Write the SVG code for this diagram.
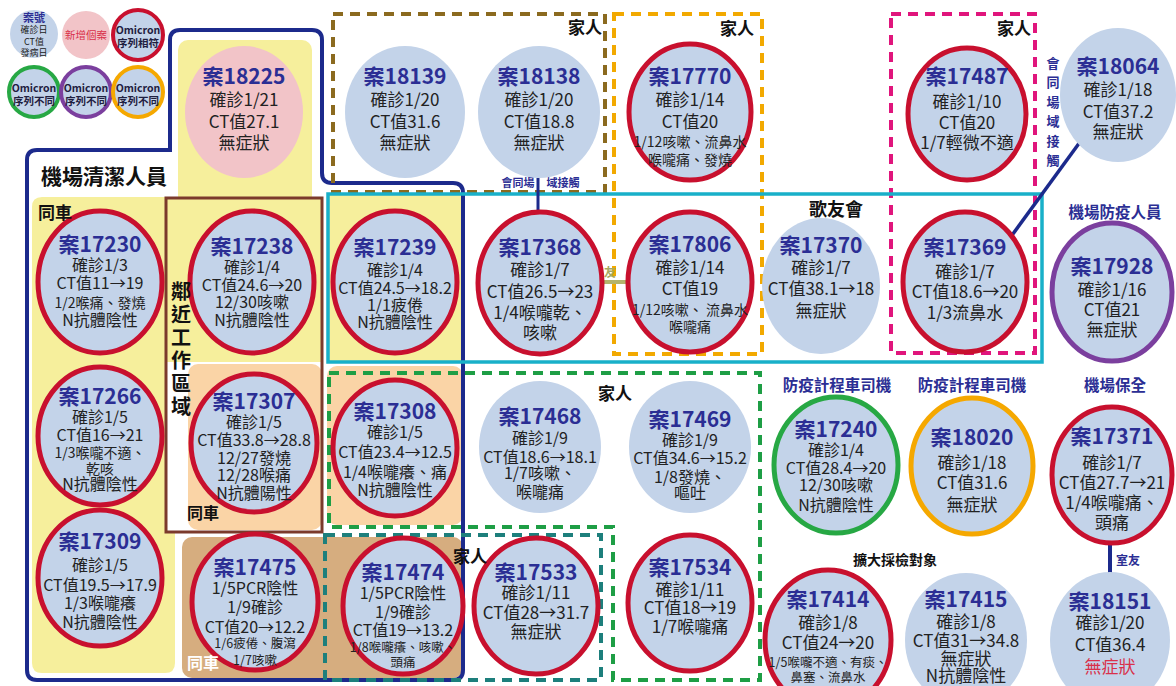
<svg xmlns="http://www.w3.org/2000/svg" width="1176" height="686" viewBox="0 0 1176 686">
<style>
text{font-family:"Noto Sans CJK TC","Noto Sans",sans-serif;text-anchor:middle;fill:#222}
.t{font-size:21px;font-weight:700;fill:#2b2e94}
.b{font-size:16px}
.m{font-size:17px}
.s{font-size:14px}
.xs{font-size:12.5px}
.c{fill:#c3d3e9}
.r{stroke:#c8102e;stroke-width:5}
.g{stroke:#27a844;stroke-width:5}
.p{stroke:#7b3f9e;stroke-width:5}
.o{stroke:#f5a800;stroke-width:5}
.lab{font-weight:700;fill:#111}
.nv{font-weight:700;fill:#2b2e94}
.om{font-size:10.5px;font-weight:700;fill:#1f2040}
.dash{fill:none;stroke-width:4;stroke-dasharray:10 7}
.yel{fill:#f6ef9c}
.org{fill:#fad4a6}
</style>

<g id="regions">
  <rect class="yel" x="178" y="40" width="134" height="170" rx="10"/>
  <path class="yel" d="M42,197 H166 V532 H175 V663 Q175,673 165,673 H42 Q32,673 32,663 V207 Q32,197 42,197 Z"/>
  <rect class="yel" x="166" y="198" width="156" height="164"/>
  <rect class="yel" x="327" y="195" width="136" height="167"/>
  <rect class="org" x="188" y="364" width="134" height="166" rx="10"/>
  <rect class="org" x="327" y="366" width="136" height="159" rx="10"/>
  <rect x="182" y="537" width="281" height="141" rx="10" fill="#d6ad7f"/>
  <path d="M27,160 Q27,150 37,150 L170,150 L170,40 Q170,30 180,30 L312,30 Q322,30 322,40 L322,173 Q322,183 332,183 L453,183 Q463,183 463,193 L463,670 Q463,680 453,680 L37,680 Q27,680 27,670 Z" fill="none" stroke="#1c2a8c" stroke-width="4"/>
  <rect x="166" y="198" width="156" height="334" fill="none" stroke="#7b3a2c" stroke-width="3"/>
  <rect class="dash" x="333" y="14" width="272" height="178" stroke="#8b6a1f"/>
  <rect class="dash" x="614" y="14" width="148" height="340" stroke="#f2a900"/>
  <rect class="dash" x="891" y="14" width="144" height="339" stroke="#e0157c"/>
  <path class="dash" d="M329,373 H760 V680 H613 V527 H329 Z" stroke="#1e9e45"/>
  <rect class="dash" x="325" y="535" width="276" height="145" stroke="#1d7f7c"/>
  <rect x="328" y="194" width="714" height="168" fill="none" stroke="#18b0c9" stroke-width="3.5"/>
</g>

<g id="connectors">
  <line x1="538" y1="178" x2="538" y2="214" stroke="#1c2a8c" stroke-width="3"/>
  <line x1="600" y1="282" x2="630" y2="282" stroke="#b4b46c" stroke-width="4"/>
  <line x1="1080" y1="142" x2="1010" y2="238" stroke="#1c2a8c" stroke-width="3.5"/>
  <line x1="1110" y1="541" x2="1110" y2="574" stroke="#1c2a8c" stroke-width="4"/>
  <text x="518" y="187" style="font-size:11px" class="nv">會同場</text>
  <text x="563" y="187" style="font-size:11px" class="nv">域接觸</text>
  <text x="610" y="277" style="font-size:12px;font-weight:700;fill:#a8a860">友</text>
  <text x="1128" y="565" style="font-size:12px" class="nv">室友</text>
  <g style="font-size:13px" class="nv">
    <text x="1053" y="68" class="nv">會</text>
    <text x="1053" y="87" class="nv">同</text>
    <text x="1053" y="107" class="nv">場</text>
    <text x="1053" y="126" class="nv">域</text>
    <text x="1053" y="146" class="nv">接</text>
    <text x="1053" y="165" class="nv">觸</text>
  </g>
</g>

<g id="legend">
  <circle cx="34" cy="34" r="24" class="c"/>
  <text x="34" y="22" class="nv" style="font-size:11px">案號</text>
  <text x="34" y="33" style="font-size:9px">確診日</text>
  <text x="34" y="45" style="font-size:9px">CT值</text>
  <text x="34" y="56" style="font-size:9px">發病日</text>
  <circle cx="86" cy="35" r="24" fill="#f2c4c8"/>
  <text x="86" y="39" style="font-size:10.5px;fill:#d9304a">新增個案</text>
  <circle cx="138" cy="35" r="25" class="c r" style="stroke-width:4"/>
  <text x="138" y="34" class="om">Omicron</text>
  <text x="138" y="47" class="om">序列相符</text>
  <circle cx="34" cy="92" r="25" class="c g" style="stroke-width:4"/>
  <circle cx="86" cy="92" r="25" class="c p" style="stroke-width:4"/>
  <circle cx="138" cy="92" r="25" class="c o" style="stroke-width:4"/>
  <text x="34" y="92" class="om">Omicron</text>
  <text x="34" y="105" class="om">序列不同</text>
  <text x="86" y="92" class="om">Omicron</text>
  <text x="86" y="105" class="om">序列不同</text>
  <text x="138" y="92" class="om">Omicron</text>
  <text x="138" y="105" class="om">序列不同</text>
</g>

<g id="n18225"><ellipse cx="244" cy="112" rx="59" ry="66" fill="#f2c4c8"/>
<text x="244" y="84" class="t">案18225</text><text x="244" y="106" class="m">確診1/21</text><text x="244" y="128" class="m">CT值27.1</text><text x="244" y="149" class="m">無症狀</text></g>
<g id="n18139"><ellipse cx="405" cy="112" rx="60" ry="66" class="c"/>
<text x="405" y="84" class="t">案18139</text><text x="405" y="106" class="m">確診1/20</text><text x="405" y="128" class="m">CT值31.6</text><text x="405" y="149" class="m">無症狀</text></g>
<g id="n18138"><ellipse cx="539" cy="112" rx="61" ry="66" class="c"/>
<text x="539" y="84" class="t">案18138</text><text x="539" y="106" class="m">確診1/20</text><text x="539" y="128" class="m">CT值18.8</text><text x="539" y="149" class="m">無症狀</text></g>
<g id="n17770"><ellipse cx="690" cy="112" rx="61" ry="68" class="c r"/>
<text x="690" y="84" class="t">案17770</text><text x="690" y="106" class="m">確診1/14</text><text x="690" y="128" class="m">CT值20</text><text x="690" y="147" class="s">1/12咳嗽、流鼻水</text><text x="690" y="165" class="s">喉嚨痛、發燒</text></g>
<g id="n17487"><ellipse cx="967" cy="114" rx="59" ry="66" class="c r"/>
<text x="967" y="84" class="t">案17487</text><text x="967" y="108" class="m">確診1/10</text><text x="967" y="129" class="m">CT值20</text><text x="967" y="149" class="m">1/7輕微不適</text></g>
<g id="n18064"><ellipse cx="1118" cy="95" rx="58" ry="67" class="c"/>
<text x="1118" y="74" class="t">案18064</text><text x="1118" y="96" class="m">確診1/18</text><text x="1118" y="118" class="m">CT值37.2</text><text x="1118" y="138" class="m">無症狀</text></g>

<g id="n17230"><ellipse cx="100" cy="282" rx="62" ry="71" class="c r"/>
<text x="100" y="252" class="t">案17230</text><text x="100" y="271" class="b">確診1/3</text><text x="100" y="289" class="b">CT值11→19</text><text x="100" y="308" class="s">1/2喉痛、發燒</text><text x="100" y="326" class="b">N抗體陰性</text></g>
<g id="n17238"><ellipse cx="252" cy="282" rx="62" ry="71" class="c r"/>
<text x="252" y="254" class="t">案17238</text><text x="252" y="273" class="b">確診1/4</text><text x="252" y="291" class="b">CT值24.6→20</text><text x="252" y="308" class="b">12/30咳嗽</text><text x="252" y="326" class="b">N抗體陰性</text></g>
<g id="n17239"><ellipse cx="395" cy="282" rx="62" ry="71" class="c r"/>
<text x="395" y="255" class="t">案17239</text><text x="395" y="276" class="b">確診1/4</text><text x="395" y="294" class="b">CT值24.5→18.2</text><text x="395" y="311" class="b">1/1疲倦</text><text x="395" y="328" class="b">N抗體陰性</text></g>
<g id="n17368"><ellipse cx="540" cy="283" rx="62" ry="71" class="c r"/>
<text x="540" y="255" class="t">案17368</text><text x="540" y="276" class="m">確診1/7</text><text x="540" y="298" class="m">CT值26.5→23</text><text x="540" y="319" class="m">1/4喉嚨乾、</text><text x="540" y="339" class="m">咳嗽</text></g>
<g id="n17806"><ellipse cx="690" cy="282" rx="62" ry="70" class="c r"/>
<text x="690" y="252" class="t">案17806</text><text x="690" y="274" class="m">確診1/14</text><text x="690" y="295" class="m">CT值19</text><text x="690" y="315" class="s">1/12咳嗽、 流鼻水</text><text x="690" y="332" class="s">喉嚨痛</text></g>
<g id="n17370"><ellipse cx="821" cy="286" rx="59" ry="68" class="c"/>
<text x="821" y="253" class="t">案17370</text><text x="821" y="274" class="m">確診1/7</text><text x="821" y="295" class="m">CT值38.1→18</text><text x="821" y="317" class="m">無症狀</text></g>
<g id="n17369"><ellipse cx="965" cy="282" rx="62" ry="70" class="c r"/>
<text x="965" y="255" class="t">案17369</text><text x="965" y="278" class="m">確診1/7</text><text x="965" y="298" class="m">CT值18.6→20</text><text x="965" y="319" class="m">1/3流鼻水</text></g>
<g id="n17928"><ellipse cx="1112" cy="292" rx="60" ry="69" class="c p"/>
<text x="1112" y="274" class="t">案17928</text><text x="1112" y="296" class="m">確診1/16</text><text x="1112" y="316" class="m">CT值21</text><text x="1112" y="336" class="m">無症狀</text></g>

<g id="n17266"><ellipse cx="100" cy="436" rx="62" ry="69" class="c r"/>
<text x="100" y="404" class="t">案17266</text><text x="100" y="423" class="b">確診1/5</text><text x="100" y="441" class="b">CT值16→21</text><text x="100" y="458" class="s">1/3喉嚨不適、</text><text x="100" y="474" class="s">乾咳</text><text x="100" y="490" class="b">N抗體陰性</text></g>
<g id="n17307"><ellipse cx="254" cy="443" rx="63" ry="69" class="c r"/>
<text x="254" y="409" class="t">案17307</text><text x="254" y="428" class="b">確診1/5</text><text x="254" y="446" class="b">CT值33.8→28.8</text><text x="254" y="464" class="b">12/27發燒</text><text x="254" y="481" class="b">12/28喉痛</text><text x="254" y="499" class="b">N抗體陽性</text></g>
<g id="n17308"><ellipse cx="395" cy="448" rx="62" ry="68" class="c r"/>
<text x="395" y="419" class="t">案17308</text><text x="395" y="438" class="b">確診1/5</text><text x="395" y="458" class="b">CT值23.4→12.5</text><text x="395" y="478" class="b">1/4喉嚨癢、痛</text><text x="395" y="496" class="b">N抗體陰性</text></g>
<g id="n17468"><ellipse cx="540" cy="447" rx="61" ry="66" class="c"/>
<text x="540" y="424" class="t">案17468</text><text x="540" y="444" class="b">確診1/9</text><text x="540" y="463" class="b">CT值18.6→18.1</text><text x="540" y="479" class="b">1/7咳嗽、</text><text x="540" y="498" class="b">喉嚨痛</text></g>
<g id="n17469"><ellipse cx="690" cy="447" rx="61" ry="66" class="c"/>
<text x="690" y="427" class="t">案17469</text><text x="690" y="446" class="b">確診1/9</text><text x="690" y="464" class="b">CT值34.6→15.2</text><text x="690" y="483" class="b">1/8發燒、</text><text x="690" y="499" class="b">嘔吐</text></g>
<g id="n17240"><ellipse cx="836" cy="465" rx="62" ry="68" class="c g"/>
<text x="836" y="437" class="t">案17240</text><text x="836" y="456" class="b">確診1/4</text><text x="836" y="474" class="b">CT值28.4→20</text><text x="836" y="491" class="b">12/30咳嗽</text><text x="836" y="511" class="b">N抗體陰性</text></g>
<g id="n18020"><ellipse cx="972" cy="466" rx="61" ry="68" class="c o"/>
<text x="972" y="445" class="t">案18020</text><text x="972" y="469" class="m">確診1/18</text><text x="972" y="489" class="m">CT值31.6</text><text x="972" y="511" class="m">無症狀</text></g>
<g id="n17371"><ellipse cx="1112" cy="475" rx="60" ry="68" class="c r"/>
<text x="1112" y="444" class="t">案17371</text><text x="1112" y="469" class="m">確診1/7</text><text x="1112" y="489" class="m">CT值27.7→21</text><text x="1112" y="509" class="m">1/4喉嚨痛、</text><text x="1112" y="529" class="m">頭痛</text></g>

<g id="n17309"><ellipse cx="100" cy="578" rx="62" ry="68" class="c r"/>
<text x="100" y="549" class="t">案17309</text><text x="100" y="571" class="b">確診1/5</text><text x="100" y="591" class="b">CT值19.5→17.9</text><text x="100" y="609" class="b">1/3喉嚨癢</text><text x="100" y="628" class="b">N抗體陰性</text></g>
<g id="n17475"><ellipse cx="255" cy="602" rx="63" ry="68" class="c r"/>
<text x="255" y="575" class="t">案17475</text><text x="255" y="594" class="b">1/5PCR陰性</text><text x="255" y="613" class="b">1/9確診</text><text x="255" y="633" class="b">CT值20→12.2</text><text x="255" y="648" class="xs">1/6疲倦、腹瀉</text><text x="255" y="665" class="xs">1/7咳嗽</text></g>
<g id="n17474"><ellipse cx="403" cy="606" rx="60" ry="68" class="c r"/>
<text x="403" y="580" class="t">案17474</text><text x="403" y="599" class="b">1/5PCR陰性</text><text x="403" y="618" class="b">1/9確診</text><text x="403" y="636" class="b">CT值19→13.2</text><text x="403" y="652" class="xs">1/8喉嚨癢、咳嗽、</text><text x="403" y="667" class="xs">頭痛</text></g>
<g id="n17533"><ellipse cx="536" cy="606" rx="62" ry="68" class="c r"/>
<text x="536" y="580" class="t">案17533</text><text x="536" y="599" class="m">確診1/11</text><text x="536" y="619" class="m">CT值28→31.7</text><text x="536" y="638" class="m">無症狀</text></g>
<g id="n17534"><ellipse cx="690" cy="603" rx="62" ry="68" class="c r"/>
<text x="690" y="575" class="t">案17534</text><text x="690" y="596" class="m">確診1/11</text><text x="690" y="614" class="m">CT值18→19</text><text x="690" y="633" class="m">1/7喉嚨痛</text></g>
<g id="n17414"><ellipse cx="828" cy="640" rx="63" ry="70" class="c r"/>
<text x="828" y="607" class="t">案17414</text><text x="828" y="629" class="m">確診1/8</text><text x="828" y="649" class="m">CT值24→20</text><text x="828" y="667" class="xs">1/5喉嚨不適、有痰、</text><text x="828" y="682" class="xs">鼻塞、流鼻水</text></g>
<g id="n17415"><ellipse cx="966" cy="640" rx="61" ry="67" class="c"/>
<text x="966" y="607" class="t">案17415</text><text x="966" y="628" class="m">確診1/8</text><text x="966" y="647" class="m">CT值31→34.8</text><text x="966" y="665" class="m">無症狀</text><text x="966" y="682" class="m">N抗體陰性</text></g>
<g id="n18151"><ellipse cx="1110" cy="640" rx="60" ry="68" class="c"/>
<text x="1110" y="609" class="t">案18151</text><text x="1110" y="629" class="m">確診1/20</text><text x="1110" y="651" class="m">CT值36.4</text><text x="1110" y="673" class="m" style="fill:#d9304a">無症狀</text></g>

<g id="labels">
  <text x="104" y="184" class="lab" style="font-size:21px">機場清潔人員</text>
  <text x="38" y="219" class="lab" style="font-size:17px;text-anchor:start">同車</text>
  <g class="lab" style="font-size:20px">
    <text x="181" y="299" class="lab">鄰</text>
    <text x="181" y="322" class="lab">近</text>
    <text x="181" y="345" class="lab">工</text>
    <text x="181" y="368" class="lab">作</text>
    <text x="181" y="391" class="lab">區</text>
    <text x="181" y="414" class="lab">域</text>
  </g>
  <text x="187" y="519" class="lab" style="font-size:16px;text-anchor:start">同車</text>
  <text x="187" y="669" class="lab" style="font-size:16px;text-anchor:start;fill:#fff">同車</text>
  <text x="585" y="34" class="lab" style="font-size:17px">家人</text>
  <text x="737" y="35" class="lab" style="font-size:17px">家人</text>
  <text x="1014" y="35" class="lab" style="font-size:17px">家人</text>
  <text x="615" y="400" class="lab" style="font-size:17px">家人</text>
  <text x="470" y="563" class="lab" style="font-size:17px">家人</text>
  <text x="836" y="216" class="lab" style="font-size:18px">歌友會</text>
  <text x="1115" y="218" class="nv" style="font-size:15.5px">機場防疫人員</text>
  <text x="837" y="391" class="nv" style="font-size:15.5px">防疫計程車司機</text>
  <text x="972" y="391" class="nv" style="font-size:15.5px">防疫計程車司機</text>
  <text x="1115" y="391" class="nv" style="font-size:15.5px">機場保全</text>
  <text x="895" y="565" class="lab" style="font-size:14px">擴大採檢對象</text>
</g>
</svg>
